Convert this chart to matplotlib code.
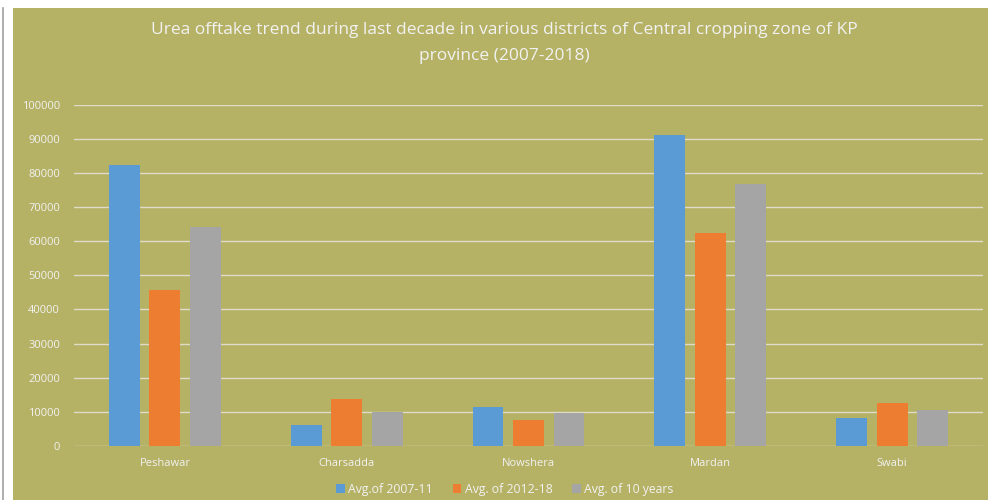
import matplotlib
matplotlib.use("Agg")
import matplotlib.pyplot as plt
import numpy as np
from matplotlib.patches import Rectangle
from matplotlib.lines import Line2D

districts = ["Peshawar", "Charsadda", "Nowshera", "Mardan", "Swabi"]
avg_2007_11 = [82400, 6200, 11500, 91200, 8100]
avg_2012_18 = [45800, 13800, 7600, 62400, 12600]
avg_10_years = [64100, 10100, 9600, 76800, 10550]
series_names = ["Avg.of 2007-11", "Avg. of 2012-18", "Avg. of 10 years"]
yticks = [0, 10000, 20000, 30000, 40000, 50000, 60000, 70000, 80000, 90000, 100000]
title = "Urea offtake trend during last decade in various districts of Central cropping zone of KP\nprovince (2007-2018)"

colors = ["#5b9bd5", "#ed7d31", "#a5a5a5"]
bg = "#b5b165"
txt = "#f2f2f2"
font = "Open Sans"

fig = plt.figure(figsize=(9.88, 5.0), dpi=100)
fig.patch.set_facecolor(bg)
# white margin at top and left
fig.patches.append(Rectangle((0, 1 - 8/500), 1, 8/500, transform=fig.transFigure,
                             facecolor="white", edgecolor="none", zorder=-10))
fig.patches.append(Rectangle((0, 0), 13/988, 1, transform=fig.transFigure,
                             facecolor="white", edgecolor="none", zorder=-10))
fig.lines.append(Line2D([2.5/988, 2.5/988], [0, 1 - 8/500], transform=fig.transFigure,
                        color="#a0a0a0", lw=1.2, zorder=-9))

ax = fig.add_axes([74/988, 1 - 446/500, (983 - 74)/988, (446 - 104.7)/500])
ax.set_facecolor("none")

x = np.arange(len(districts))
w = 0.17
step = 0.223
for i, (vals, c, name) in enumerate(zip([avg_2007_11, avg_2012_18, avg_10_years], colors, series_names)):
    ax.bar(x + (i - 1) * step, vals, width=w, color=c, label=name, zorder=3)

ax.set_xlim(-0.5, len(districts) - 0.5)
ax.set_ylim(0, 100000)
ax.set_yticks(yticks)
ax.set_yticklabels([str(t) for t in yticks])
ax.yaxis.grid(True, color="#dedbc8", lw=1.0, zorder=1)
ax.set_axisbelow(True)
for s in ax.spines.values():
    s.set_visible(False)
ax.tick_params(axis="both", length=0, colors=txt)
ax.tick_params(axis="y", pad=10)
ax.tick_params(axis="x", pad=9)
ax.set_xticks(x)
ax.set_xticklabels(districts)
for lab in ax.get_xticklabels() + ax.get_yticklabels():
    lab.set_fontfamily(font)
    lab.set_fontsize(8)
    lab.set_color(txt)

fig.text(0.51, 1 - 43/500, title, ha="center", va="center", fontsize=12.5,
         color=txt, family=font, linespacing=1.75)

leg = fig.legend(loc="center", bbox_to_anchor=(0.511, 1 - 489/500), ncol=3, frameon=False,
                 prop={"family": font, "size": 8.8}, handlelength=0.7, handleheight=0.7,
                 handletextpad=0.3, columnspacing=1.6)
for t in leg.get_texts():
    t.set_color(txt)

fig.savefig("out.png", dpi=100, facecolor=fig.get_facecolor())
